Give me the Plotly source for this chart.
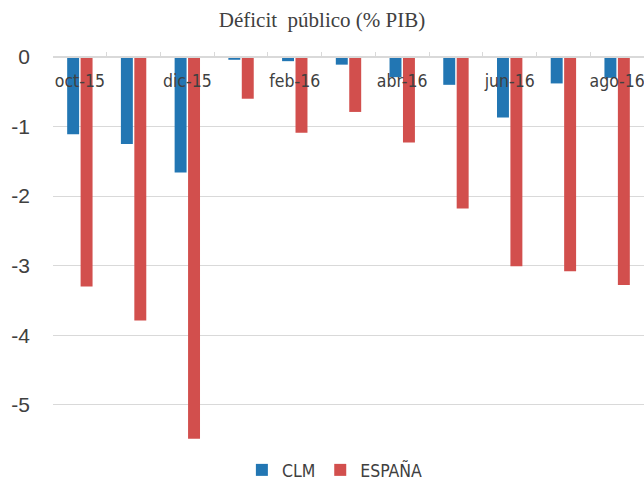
import plotly.graph_objects as go

categories = ["oct-15", "nov-15", "dic-15", "ene-16", "feb-16", "mar-16",
              "abr-16", "may-16", "jun-16", "jul-16", "ago-16"]
tick_labels = ["oct-15", "", "dic-15", "", "feb-16", "", "abr-16", "", "jun-16", "", "ago-16"]
y_ticks = [0, -1, -2, -3, -4, -5]
y_tick_labels = ["0", "-1", "-2", "-3", "-4", "-5"]
clm = [-1.11, -1.25, -1.66, -0.04, -0.06, -0.11, -0.29, -0.40, -0.87, -0.38, -0.30]
espana = [-3.30, -3.79, -5.49, -0.60, -1.09, -0.79, -1.23, -2.18, -3.01, -3.08, -3.28]

fig = go.Figure()
fig.add_trace(go.Bar(x=categories, y=clm, name="CLM", marker_color="#2276b3",
                     marker_line_width=0))
fig.add_trace(go.Bar(x=categories, y=espana, name="ESPAÑA", marker_color="#d24f4d",
                     marker_line_width=0))

fig.update_layout(
    width=644, height=481,
    margin=dict(l=53, r=0, t=57, b=38, autoexpand=False),
    paper_bgcolor="white", plot_bgcolor="white",
    barmode="group", bargap=0.5, bargroupgap=0.11,
    title=dict(text="Déficit\u00a0 público (% PIB)", x=0.5, xanchor="center",
               y=1 - 20 / 481, yanchor="middle", yref="container",
               font=dict(family="Liberation Serif, DejaVu Serif, serif", size=21, color="#404040")),
    font=dict(family="DejaVu Sans Condensed, Liberation Sans, sans-serif",
              color="#404040"),
    showlegend=True,
    legend=dict(orientation="h", x=0.52, xanchor="center", xref="container",
                y=1 - 470 / 481, yanchor="middle", yref="container",
                font=dict(size=17.5, color="#404040"), itemwidth=30, tracegroupgap=0),
    xaxis=dict(type="category", tickvals=categories, ticktext=tick_labels,
               anchor="free", position=1, side="bottom", automargin=False,
               ticks="inside", tickson="boundaries", tickangle=0,
               ticklen=5, tickcolor="#d9d9d9", showline=True, linecolor="#d9d9d9",
               linewidth=1, showgrid=False, tickfont=dict(size=17.5, color="#404040"),
               ticklabelstandoff=8),
    yaxis=dict(range=[-5.55, 0], tickvals=y_ticks, ticktext=y_tick_labels,
               showgrid=True, gridcolor="#d9d9d9", gridwidth=1, automargin=False,
               zeroline=True, zerolinecolor="#d9d9d9", showline=False,
               tickfont=dict(size=21, color="#404040",
                             family="Liberation Sans, DejaVu Sans, sans-serif"),
               ticklabelstandoff=22),
)

fig.write_html("out.html", config={"displayModeBar": False},
               post_script="document.body.style.margin='0';")
